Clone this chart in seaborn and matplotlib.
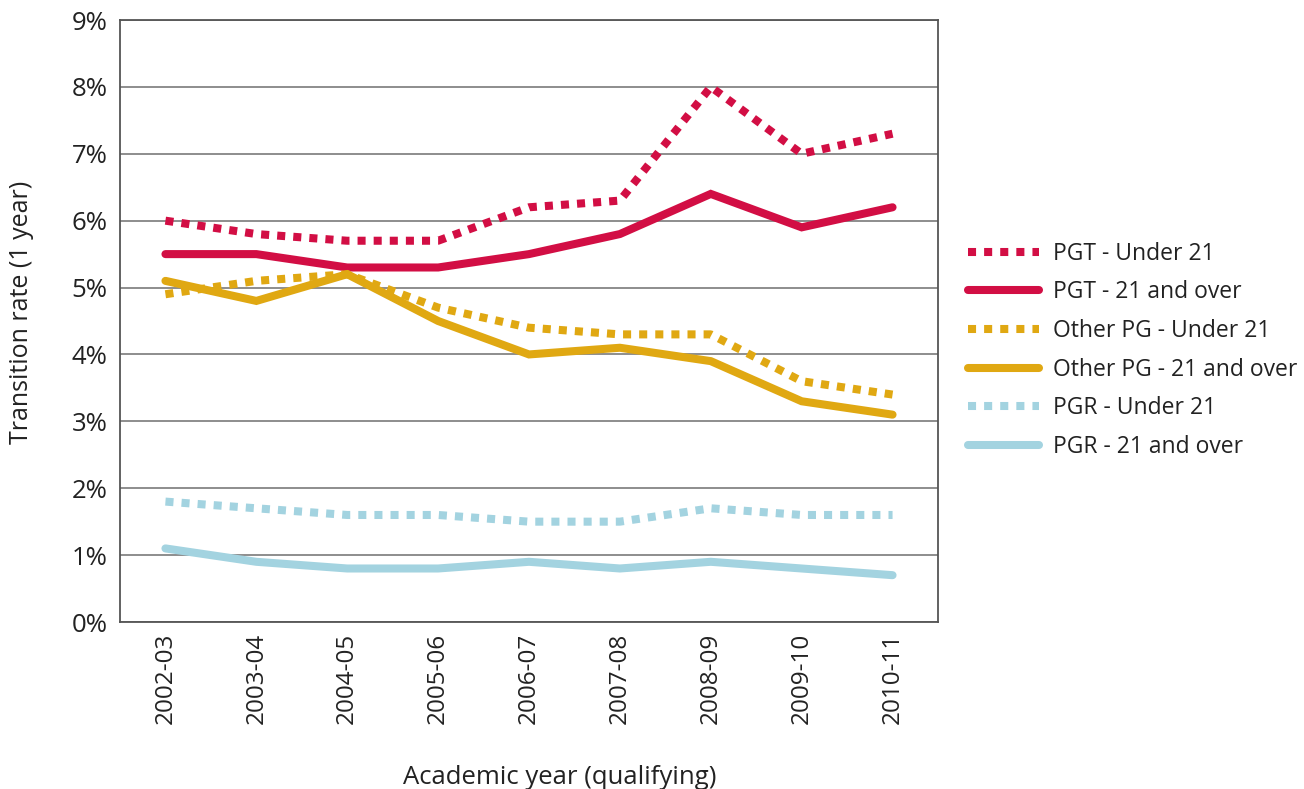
import matplotlib
matplotlib.use("Agg")
import matplotlib.pyplot as plt
import seaborn as sns
from matplotlib.ticker import FixedLocator, PercentFormatter

years = ["2002-03", "2003-04", "2004-05", "2005-06", "2006-07",
         "2007-08", "2008-09", "2009-10", "2010-11"]

pgt_under21 = [6.0, 5.8, 5.7, 5.7, 6.2, 6.3, 8.0, 7.0, 7.3]
pgt_21over = [5.5, 5.5, 5.3, 5.3, 5.5, 5.8, 6.4, 5.9, 6.2]
other_under21 = [4.9, 5.1, 5.2, 4.7, 4.4, 4.3, 4.3, 3.6, 3.4]
other_21over = [5.1, 4.8, 5.2, 4.5, 4.0, 4.1, 3.9, 3.3, 3.1]
pgr_under21 = [1.8, 1.7, 1.6, 1.6, 1.5, 1.5, 1.7, 1.6, 1.6]
pgr_21over = [1.1, 0.9, 0.8, 0.8, 0.9, 0.8, 0.9, 0.8, 0.7]

series_names = ["PGT - Under 21", "PGT - 21 and over",
                "Other PG - Under 21", "Other PG - 21 and over",
                "PGR - Under 21", "PGR - 21 and over"]
series_values = [pgt_under21, pgt_21over, other_under21, other_21over,
                 pgr_under21, pgr_21over]

crimson = "#D20E44"
gold = "#E0A812"
lightblue = "#A3D3E0"
colors = [crimson, crimson, gold, gold, lightblue, lightblue]
dotted = (0, (1, 1))
styles = [dotted, "-", dotted, "-", dotted, "-"]

sns.set_style("white")
plt.rcParams["font.family"] = ["Open Sans", "DejaVu Sans"]

fig = plt.figure(figsize=(13.04, 7.89), dpi=100)
ax = fig.add_axes([120 / 1304, 1 - 622 / 789, (938 - 120) / 1304, (622 - 20) / 789])

lw = 5.8
for name, vals, c, ls in zip(series_names, series_values, colors, styles):
    sns.lineplot(x=years, y=vals, ax=ax, color=c, linewidth=lw,
                 linestyle=ls, label=name, sort=False,
                 solid_joinstyle="miter", dash_capstyle="butt")

ax.set_xlim(-0.5, len(years) - 0.5)
ax.set_ylim(0, 9)
ax.set_yticks(range(0, 10))
ax.yaxis.set_major_formatter(PercentFormatter(decimals=0))
ax.yaxis.grid(True, color="#7a7a7a", linewidth=1.2)
ax.set_axisbelow(True)

for s in ax.spines.values():
    s.set_visible(True)
    s.set_color("#555555")
    s.set_linewidth(1.3)

ax.tick_params(axis="y", length=0, labelsize=18.5, pad=9, colors="#222222")
for lbl in ax.get_yticklabels():
    lbl.set_verticalalignment("center_baseline")
ax.tick_params(axis="x", which="major", length=0, labelsize=17.5,
               labelrotation=90, pad=8, colors="#222222")
ax.xaxis.set_minor_locator(FixedLocator([i + 0.5 for i in range(len(years) - 1)]))
ax.tick_params(axis="x", which="minor", direction="in", length=10,
               width=1.2, color="#555555")

ax.set_xlabel("")
ax.set_ylabel("")
fig.text(22 / 1304, 1 - 312 / 789, "Transition rate (1 year)", rotation=90,
         fontsize=18, color="#222222", ha="center", va="center")
fig.text(560 / 1304, 1 - 784 / 789, "Academic year (qualifying)",
         fontsize=18.5, color="#222222", ha="center", va="baseline")

leg = ax.legend(loc="center left", bbox_to_anchor=(968 / 1304, 1 - 350.5 / 789),
                bbox_transform=fig.transFigure, frameon=False, fontsize=16.5,
                handlelength=3.1, handletextpad=0.6, labelspacing=0.64,
                borderpad=0, borderaxespad=0)
for t in leg.get_texts():
    t.set_color("#222222")

fig.savefig("out.png", dpi=100)
